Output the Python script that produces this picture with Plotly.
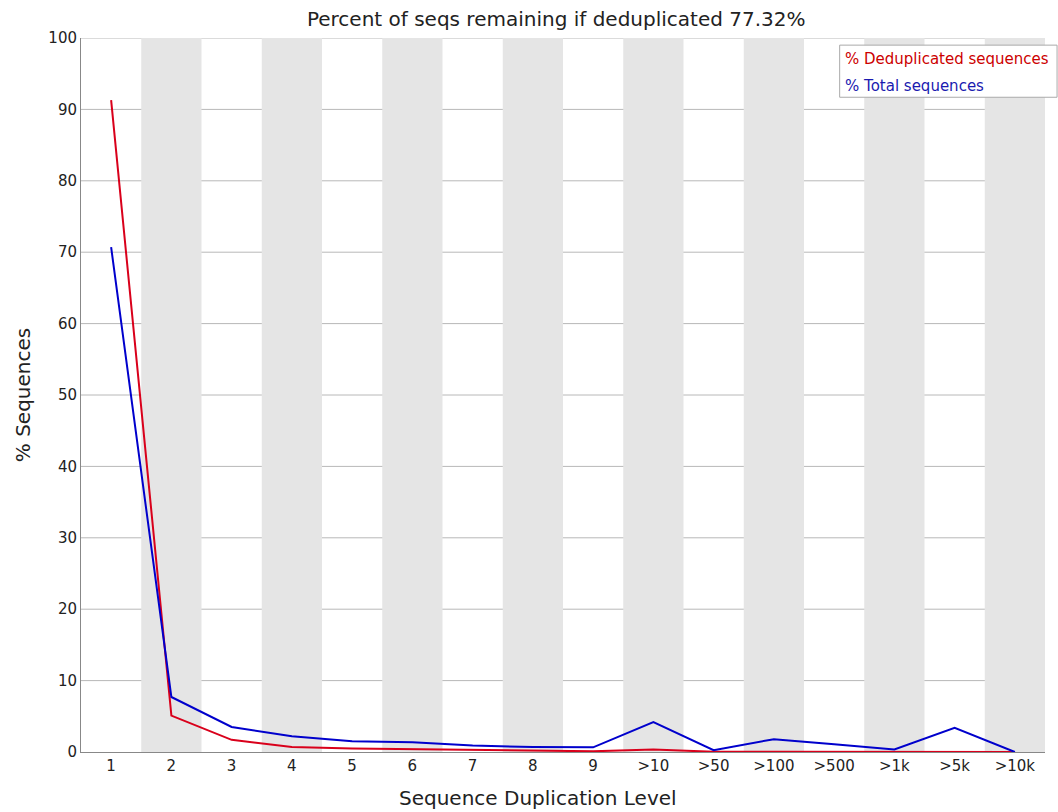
import plotly.graph_objects as go

categories = ["1", "2", "3", "4", "5", "6", "7", "8", "9", ">10", ">50", ">100", ">500", ">1k", ">5k", ">10k"]
dedup_pct = [91.3, 5.1, 1.7, 0.7, 0.5, 0.4, 0.2, 0.15, 0.1, 0.35, 0.03, 0.05, 0.02, 0.01, 0.01, 0.0]
total_pct = [70.7, 7.7, 3.5, 2.2, 1.5, 1.35, 0.9, 0.7, 0.65, 4.2, 0.25, 1.8, 1.1, 0.35, 3.4, 0.0]
y_ticks = [0, 10, 20, 30, 40, 50, 60, 70, 80, 90, 100]
title_text = "Percent of seqs remaining if deduplicated 77.32%"

FONT = "DejaVu Sans"
idx = list(range(len(categories)))

fig = go.Figure()
fig.add_trace(go.Scatter(x=idx, y=dedup_pct, mode="lines", line=dict(color="#d9001b", width=2),
                         name="% Deduplicated sequences", showlegend=False))
fig.add_trace(go.Scatter(x=idx, y=total_pct, mode="lines", line=dict(color="#0000cc", width=2),
                         name="% Total sequences", showlegend=False))

# alternating background bands
for i in idx:
    if i % 2 == 1:
        fig.add_shape(type="rect", xref="x", yref="y", x0=i - 0.5, x1=i + 0.5, y0=0, y1=100,
                      fillcolor="#e5e5e5", line=dict(width=0), layer="below")
# horizontal gridlines drawn over the bands
for t in y_ticks[1:]:
    fig.add_shape(type="line", xref="paper", yref="y", x0=0, x1=1, y0=t, y1=t,
                  line=dict(color="#b8b8b8", width=1), layer="below")

fig.update_layout(
    width=1058, height=812,
    margin=dict(l=81, r=13, t=38, b=60),
    paper_bgcolor="white", plot_bgcolor="white",
    font=dict(family=FONT, color="#222"),
    title=dict(text=title_text, x=0.493, xref="paper", xanchor="center", y=0.977, yanchor="middle",
               font=dict(size=20, family=FONT, color="#222")),
    xaxis=dict(range=[-0.5, len(categories) - 0.5], tickmode="array", tickvals=idx, ticktext=categories,
               showgrid=False, zeroline=False, showline=True, linecolor="#888", linewidth=1,
               ticks="", tickfont=dict(size=15, family=FONT, color="#222")),
    yaxis=dict(range=[0, 100], tickmode="array", tickvals=y_ticks,
               showgrid=False, zeroline=False,
               showline=True, linecolor="#888", linewidth=1, ticks="",
               tickfont=dict(size=15, family=FONT, color="#222"),
               title=dict(text="% Sequences", font=dict(size=20, family=FONT, color="#222"), standoff=12)),
)

fig.add_annotation(xref="paper", yref="paper", x=0.474, y=-0.064, text="Sequence Duplication Level",
                   showarrow=False, xanchor="center", yanchor="middle",
                   font=dict(size=20, family=FONT, color="#222"))

# legend box
fig.add_shape(type="rect", xref="paper", yref="paper", x0=0.787, x1=1.0125, y0=0.917, y1=0.990,
              line=dict(color="#aaa", width=1), fillcolor="white", layer="above")
fig.add_annotation(xref="paper", yref="paper", x=0.790, y=0.9706, text="% Deduplicated sequences",
                   showarrow=False, xanchor="left", yanchor="middle",
                   font=dict(size=15, family=FONT, color="#cc0000"))
fig.add_annotation(xref="paper", yref="paper", x=0.790, y=0.9328, text="% Total sequences",
                   showarrow=False, xanchor="left", yanchor="middle",
                   font=dict(size=15, family=FONT, color="#1a1ab0"))

fig.write_html("out.html")
